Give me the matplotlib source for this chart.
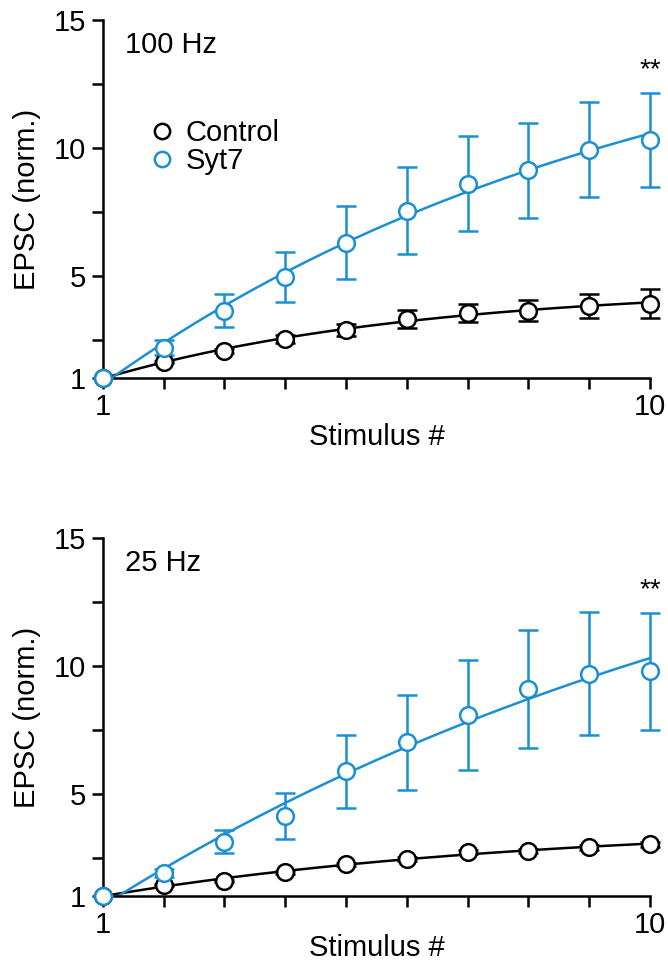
import matplotlib
matplotlib.use("Agg")
import matplotlib.pyplot as plt
from matplotlib.lines import Line2D
import numpy as np

plt.rcParams["font.family"] = ["Liberation Sans", "DejaVu Sans"]

stim = np.arange(1, 11)

# 100 Hz
ctrl_100 = [1.0, 1.63, 2.06, 2.53, 2.88, 3.31, 3.55, 3.63, 3.82, 3.90]
ctrl_100_err = [0, 0.05, 0.08, 0.15, 0.24, 0.35, 0.36, 0.42, 0.46, 0.57]
syt7_100 = [1.0, 2.18, 3.63, 4.96, 6.29, 7.55, 8.60, 9.12, 9.94, 10.33]
syt7_100_err = [0, 0.3, 0.65, 0.98, 1.43, 1.70, 1.85, 1.85, 1.85, 1.84]

# 25 Hz
ctrl_25 = [1.0, 1.43, 1.60, 1.93, 2.25, 2.45, 2.73, 2.77, 2.90, 3.03]
ctrl_25_err = [0, 0.03, 0.04, 0.05, 0.06, 0.07, 0.08, 0.08, 0.09, 0.1]
syt7_25 = [1.0, 1.91, 3.13, 4.14, 5.87, 7.01, 8.08, 9.09, 9.69, 9.78]
syt7_25_err = [0, 0.15, 0.45, 0.90, 1.42, 1.86, 2.15, 2.30, 2.40, 2.30]

blue = "#1a8fd3"
FS = 21


def fit_curve(x, y):
    # y = c + a*(1 - exp(-(x-1)/tau)), least squares over a grid of tau
    x = np.asarray(x, float)
    y = np.asarray(y, float)
    best = None
    for tau in np.linspace(1, 200, 2000):
        g = 1 - np.exp(-(x - 1) / tau)
        A = np.column_stack([np.ones_like(g), g])
        coef = np.linalg.lstsq(A, y, rcond=None)[0]
        r = np.sum((A @ coef - y) ** 2)
        if best is None or r < best[0]:
            best = (r, tau, coef)
    _, tau, coef = best
    xs = np.linspace(1, 10, 200)
    return xs, coef[0] + coef[1] * (1 - np.exp(-(xs - 1) / tau))


def panel(ax, ctrl, ctrl_err, syt, syt_err, title, legend=False, xpad=1):
    for y, e, c in [(ctrl, ctrl_err, "black"), (syt, syt_err, blue)]:
        xs, ys = fit_curve(stim, y)
        ax.plot(xs, ys, color=c, lw=1.8, zorder=2)
        ax.errorbar(stim, y, yerr=e, fmt="none", ecolor=c, elinewidth=1.8,
                    capsize=7, capthick=1.8, zorder=3, clip_on=False)
        ax.plot(stim, y, "o", ms=12, mfc="white", mec=c, mew=1.8,
                zorder=4, clip_on=False)
    ax.set_xlim(1, 10)
    ax.set_ylim(1, 15)
    ax.set_xticks(stim)
    ax.set_xticklabels(["1"] + [""] * 8 + ["10"])
    ax.set_yticks([1, 2.5, 5, 7.5, 10, 12.5, 15])
    ax.set_yticklabels(["1", "", "5", "", "10", "", "15"])
    ax.spines["top"].set_visible(False)
    ax.spines["right"].set_visible(False)
    for s in ["left", "bottom"]:
        ax.spines[s].set_linewidth(1.8)
    ax.tick_params(width=1.8, length=8, labelsize=FS, pad=3)
    ax.tick_params(axis="y", pad=4)
    ax.set_xlabel("Stimulus #", fontsize=FS, labelpad=xpad)
    ax.set_ylabel("EPSC (norm.)", fontsize=FS, labelpad=9)
    ax.text(0.04, 0.93, title, transform=ax.transAxes, fontsize=FS,
            va="center", ha="left")
    ax.text(10, syt[-1] + syt_err[-1] + 0.35, "**", fontsize=20,
            ha="center", va="bottom")
    if legend:
        handles = [Line2D([], [], ls="none", marker="o", ms=11, mfc="white",
                          mec="black", mew=1.8),
                   Line2D([], [], ls="none", marker="o", ms=11, mfc="white",
                          mec=blue, mew=1.8)]
        ax.legend(handles, ["Control", "Syt7"], loc="upper left",
                  bbox_to_anchor=(0.06, 0.765), frameon=False, fontsize=FS,
                  handlelength=0.8, handletextpad=0.4, labelspacing=0.0,
                  borderpad=0)


fig = plt.figure(figsize=(6.68, 9.64), dpi=100)
ax1 = fig.add_axes([0.154, 0.608, 0.819, 0.371])
ax2 = fig.add_axes([0.154, 0.0705, 0.819, 0.3715])

panel(ax1, ctrl_100, ctrl_100_err, syt7_100, syt7_100_err, "100 Hz", legend=True)
panel(ax2, ctrl_25, ctrl_25_err, syt7_25, syt7_25_err, "25 Hz", xpad=-4)

fig.savefig("out.png", dpi=100)
